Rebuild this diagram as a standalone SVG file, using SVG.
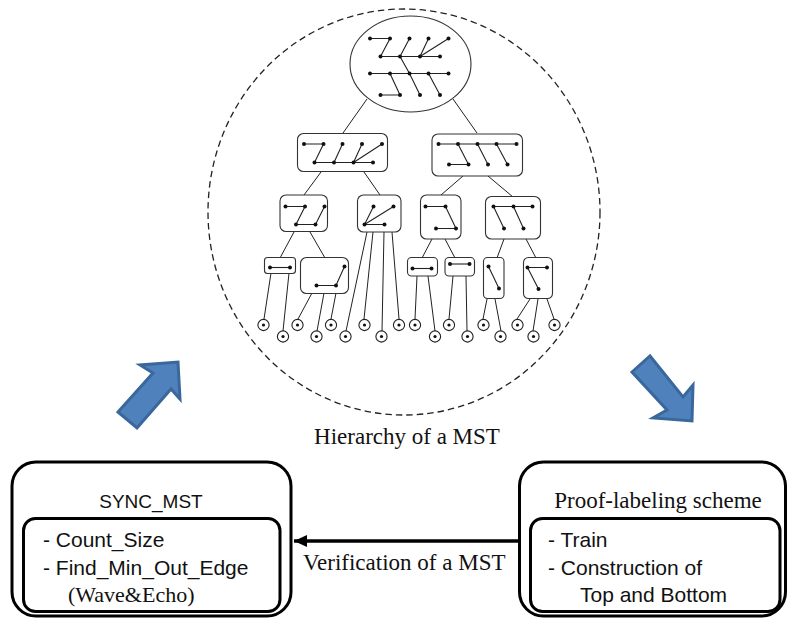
<svg xmlns="http://www.w3.org/2000/svg" width="788" height="620" viewBox="0 0 788 620">
<defs>
<style>
.t{stroke:#222;stroke-width:1;fill:none}
.e{stroke:#222;stroke-width:1.1;fill:none}
.bx{fill:#fff;stroke:#333;stroke-width:1.1}
.d{fill:#111}
.lf{fill:#fff;stroke:#222;stroke-width:1.1}
.ob{fill:#fff;stroke:#000;stroke-width:3}
.serif{font-family:"Liberation Serif","Times New Roman",serif;fill:#111}
.sans{font-family:"Liberation Sans",Arial,sans-serif;fill:#111}
.blue{fill:#4f81bd;stroke:#3a679c;stroke-width:3;stroke-linejoin:miter}
</style>
<marker id="ah" markerWidth="14" markerHeight="12" refX="13" refY="6" orient="auto" markerUnits="userSpaceOnUse">
<path d="M0,0 L13,6 L0,12 Z" fill="#000"/>
</marker>
</defs>
<rect width="788" height="620" fill="#fff"/>

<g id="hierarchy">
<ellipse cx="404" cy="212" rx="196" ry="203" fill="none" stroke="#222" stroke-width="1.3" stroke-dasharray="6.5,4"/>

<g id="connectors">
<path class="t" d="M367,99 L343,133 M453,99 L477,133"/>
<path class="t" d="M321,172 L304,195 M364,172 L380,195 M463,176 L441,195 M488,176 L513,197"/>
<path class="t" d="M294,232 L280,258 M310,232 L325,258 M432,239 L422,258 M445,239 L455,258 M504,239 L497,258 M526,239 L536,258"/>
<path class="t" d="M271,273 L264,319 M289,273 L283,331 M312,293 L298,319 M324,293 L317,331 M336,293 L331,319"/>
<path class="t" d="M367,232 L346,331 M373,232 L364,319 M384,232 L382,331 M392,232 L399,319"/>
<path class="t" d="M417,276 L415,319 M428,276 L435,331 M453,276 L449,319 M466,276 L467,331"/>
<path class="t" d="M487,299 L483,319 M495,299 L501,331 M530,299 L517,319 M538,299 L533,331 M547,299 L554,319"/>
</g>

<g id="root">
<ellipse cx="410.5" cy="64" rx="60.5" ry="48" class="bx"/>
<path class="e" d="M370,38.5 H390 L380.5,56.5 M409.5,38.5 L400,56.5 M428.5,38.5 L420,56.5 M448.5,38.5 L420,56.5 M380.5,56.5 H440 M400,56.5 L409.5,73.5 M370,73.5 H448.5 M390,73.5 L400,95 M409.5,73.5 L420,95 M428.5,73.5 L440,95 M380.5,95 H400"/>
<g class="d">
<circle cx="370" cy="38.5" r="2"/><circle cx="390" cy="38.5" r="2"/><circle cx="409.5" cy="38.5" r="2"/><circle cx="428.5" cy="38.5" r="2"/><circle cx="448.5" cy="38.5" r="2"/>
<circle cx="380.5" cy="56.5" r="2"/><circle cx="400" cy="56.5" r="2"/><circle cx="420" cy="56.5" r="2"/><circle cx="440" cy="56.5" r="2"/>
<circle cx="370" cy="73.5" r="2"/><circle cx="390" cy="73.5" r="2"/><circle cx="409.5" cy="73.5" r="2"/><circle cx="428.5" cy="73.5" r="2"/><circle cx="448.5" cy="73.5" r="2"/>
<circle cx="380.5" cy="95" r="2"/><circle cx="400" cy="95" r="2"/><circle cx="420" cy="95" r="2"/><circle cx="440" cy="95" r="2"/>
</g>
</g>

<g id="l2-left">
<rect x="297.5" y="133.5" width="90" height="38" rx="6" class="bx"/>
<path class="e" d="M304,144 H323.5 L314.5,162.5 M342.5,144 L334,162.5 M362,144 L353.5,162.5 M382,144 L353.5,162.5 M314.5,162.5 H373"/>
<g class="d"><circle cx="304" cy="144" r="2"/><circle cx="323.5" cy="144" r="2"/><circle cx="342.5" cy="144" r="2"/><circle cx="362" cy="144" r="2"/><circle cx="382" cy="144" r="2"/><circle cx="314.5" cy="162.5" r="2"/><circle cx="334" cy="162.5" r="2"/><circle cx="353.5" cy="162.5" r="2"/><circle cx="373" cy="162.5" r="2"/></g>
</g>

<g id="l2-right">
<rect x="432" y="134" width="90.5" height="42" rx="6" class="bx"/>
<path class="e" d="M438.5,144 H516.5 M458,144 L468.5,164.5 M477.5,144 L488,164.5 M496.5,144 L507.5,164.5 M449,164.5 H468.5"/>
<g class="d"><circle cx="438.5" cy="144" r="2"/><circle cx="458" cy="144" r="2"/><circle cx="477.5" cy="144" r="2"/><circle cx="496.5" cy="144" r="2"/><circle cx="516.5" cy="144" r="2"/><circle cx="449" cy="164.5" r="2"/><circle cx="468.5" cy="164.5" r="2"/><circle cx="488" cy="164.5" r="2"/><circle cx="507.5" cy="164.5" r="2"/></g>
</g>

<g id="l3-a">
<rect x="280" y="195" width="47.5" height="36.5" rx="6" class="bx"/>
<path class="e" d="M285.5,206.5 H305 L296,224.5 H315.5 L324.5,206.5"/>
<g class="d"><circle cx="285.5" cy="206.5" r="2"/><circle cx="305" cy="206.5" r="2"/><circle cx="324.5" cy="206.5" r="2"/><circle cx="296" cy="224.5" r="2"/><circle cx="315.5" cy="224.5" r="2"/></g>
</g>

<g id="l3-b">
<rect x="357.5" y="195" width="43.5" height="37" rx="6" class="bx"/>
<path class="e" d="M373.5,206.5 L364.5,224.5 L393.5,206.5 M364.5,224.5 H384.5"/>
<g class="d"><circle cx="373.5" cy="206.5" r="2"/><circle cx="393.5" cy="206.5" r="2"/><circle cx="364.5" cy="224.5" r="2"/><circle cx="384.5" cy="224.5" r="2"/></g>
</g>

<g id="l3-c">
<rect x="420.5" y="195" width="40.5" height="44" rx="6" class="bx"/>
<path class="e" d="M425.5,206.5 H445.5 L456,228.5 H436"/>
<g class="d"><circle cx="425.5" cy="206.5" r="2"/><circle cx="445.5" cy="206.5" r="2"/><circle cx="436" cy="228.5" r="2"/><circle cx="456" cy="228.5" r="2"/></g>
</g>

<g id="l3-d">
<rect x="485.5" y="196.5" width="55" height="42.5" rx="6" class="bx"/>
<path class="e" d="M493.5,206.5 H532.5 M493.5,206.5 L504,228.5 M513.5,206.5 L523.5,228.5"/>
<g class="d"><circle cx="493.5" cy="206.5" r="2"/><circle cx="513.5" cy="206.5" r="2"/><circle cx="532.5" cy="206.5" r="2"/><circle cx="504" cy="228.5" r="2"/><circle cx="523.5" cy="228.5" r="2"/></g>
</g>

<g id="l4-a1">
<rect x="264.5" y="257.5" width="31" height="16" rx="3" class="bx"/>
<path class="e" d="M270,267.5 H290"/>
<g class="d"><circle cx="270" cy="267.5" r="2"/><circle cx="290" cy="267.5" r="2"/></g>
</g>

<g id="l4-a2">
<rect x="300.5" y="257.5" width="48" height="36" rx="6" class="bx"/>
<path class="e" d="M316.5,285.5 H336 L344.5,266.5"/>
<g class="d"><circle cx="316.5" cy="285.5" r="2"/><circle cx="336" cy="285.5" r="2"/><circle cx="344.5" cy="266.5" r="2"/></g>
</g>

<g id="l4-c1">
<rect x="407.5" y="257.5" width="30" height="18.5" rx="4" class="bx"/>
<path class="e" d="M412.5,268.5 H431.5"/>
<g class="d"><circle cx="412.5" cy="268.5" r="2"/><circle cx="431.5" cy="268.5" r="2"/></g>
</g>

<g id="l4-c2">
<rect x="445" y="257.5" width="29.5" height="18.5" rx="4" class="bx"/>
<path class="e" d="M450,264 H469.5"/>
<g class="d"><circle cx="450" cy="264" r="2"/><circle cx="469.5" cy="264" r="2"/></g>
</g>

<g id="l4-d1">
<rect x="483.5" y="257.5" width="20.5" height="41" rx="4" class="bx"/>
<path class="e" d="M488.5,266.5 L499,288.5"/>
<g class="d"><circle cx="488.5" cy="266.5" r="2"/><circle cx="499" cy="288.5" r="2"/></g>
</g>

<g id="l4-d2">
<rect x="523.5" y="257.5" width="29" height="41" rx="5" class="bx"/>
<path class="e" d="M527.5,267.5 H547 M527.5,267.5 L538.5,289"/>
<g class="d"><circle cx="527.5" cy="267.5" r="2"/><circle cx="547" cy="267.5" r="2"/><circle cx="538.5" cy="289" r="2"/></g>
</g>

<g id="leaves">
<g class="lf">
<circle cx="263.5" cy="325" r="5.6"/><circle cx="283" cy="336.5" r="5.6"/><circle cx="297.5" cy="325" r="5.6"/><circle cx="316.5" cy="336.5" r="5.6"/><circle cx="331" cy="325" r="5.6"/><circle cx="345.5" cy="336.5" r="5.6"/><circle cx="364.5" cy="325" r="5.6"/><circle cx="381.5" cy="336.5" r="5.6"/><circle cx="399" cy="325" r="5.6"/><circle cx="415" cy="325" r="5.6"/><circle cx="435" cy="336.5" r="5.6"/><circle cx="449" cy="325" r="5.6"/><circle cx="467.5" cy="336.5" r="5.6"/><circle cx="483.5" cy="325" r="5.6"/><circle cx="500.5" cy="336.5" r="5.6"/><circle cx="517.5" cy="325" r="5.6"/><circle cx="533.5" cy="336.5" r="5.6"/><circle cx="554.5" cy="325" r="5.6"/>
</g>
<g class="d">
<circle cx="263.5" cy="325" r="1.6"/><circle cx="283" cy="336.5" r="1.6"/><circle cx="297.5" cy="325" r="1.6"/><circle cx="316.5" cy="336.5" r="1.6"/><circle cx="331" cy="325" r="1.6"/><circle cx="345.5" cy="336.5" r="1.6"/><circle cx="364.5" cy="325" r="1.6"/><circle cx="381.5" cy="336.5" r="1.6"/><circle cx="399" cy="325" r="1.6"/><circle cx="415" cy="325" r="1.6"/><circle cx="435" cy="336.5" r="1.6"/><circle cx="449" cy="325" r="1.6"/><circle cx="467.5" cy="336.5" r="1.6"/><circle cx="483.5" cy="325" r="1.6"/><circle cx="500.5" cy="336.5" r="1.6"/><circle cx="517.5" cy="325" r="1.6"/><circle cx="533.5" cy="336.5" r="1.6"/><circle cx="554.5" cy="325" r="1.6"/>
</g>
</g>
<text x="407" y="444" font-size="23" text-anchor="middle" class="serif">Hierarchy of a MST</text>
</g>

<g id="arrows-blue">
<polygon class="blue" points="118,412 153,373 140,365 178,362 180,399 171,389 137,428"/>
<polygon class="blue" points="632,372 650,356 683,397 693,385 692,421 653,418 667,410"/>
</g>

<g id="sync-mst">
<rect x="12" y="462" width="279" height="154" rx="24" class="ob"/>
<rect x="23.5" y="518.5" width="256.5" height="93" rx="12" class="ob"/>
<text x="151" y="508" font-size="19" text-anchor="middle" class="sans">SYNC_MST</text>
<text x="43" y="547" font-size="21" class="sans">- Count_Size</text>
<text x="43" y="575" font-size="21" class="sans">- Find_Min_Out_Edge</text>
<text x="68" y="602" font-size="22" class="serif">(Wave&amp;Echo)</text>
</g>

<g id="proof-labeling">
<rect x="519.5" y="462" width="266" height="154" rx="24" class="ob"/>
<rect x="530.5" y="518.5" width="249.5" height="93" rx="12" class="ob"/>
<text x="658" y="508" font-size="23" text-anchor="middle" class="serif">Proof-labeling scheme</text>
<text x="548" y="547" font-size="21" class="sans">- Train</text>
<text x="548" y="575" font-size="21" class="sans">- Construction of</text>
<text x="580" y="602" font-size="21" class="sans">Top and Bottom</text>
</g>

<g id="verify-connector">
<line x1="519" y1="541" x2="294" y2="541" stroke="#000" stroke-width="3.3" marker-end="url(#ah)"/>
<text x="303" y="570" font-size="23" class="serif">Verification of a MST</text>
</g>
</svg>
